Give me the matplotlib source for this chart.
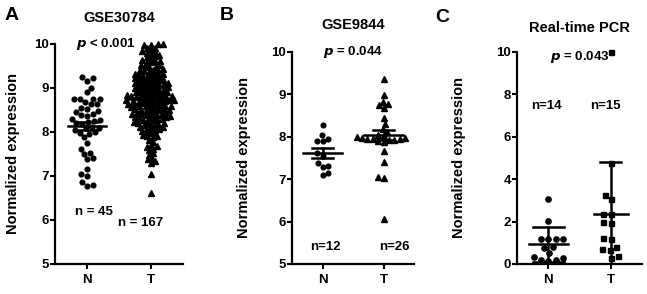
import matplotlib
matplotlib.use("Agg")
import matplotlib.pyplot as plt
import numpy as np

plt.rcParams['font.family'] = ['Liberation Sans', 'DejaVu Sans']
plt.rcParams['font.weight'] = 'bold'

# ---- data ----
groups = ['N', 'T']

# A: GSE30784
a_n = [9.26, 9.22, 9.17, 9.0, 8.9, 8.76, 8.76, 8.75, 8.74, 8.64, 8.63, 8.55, 8.53,
       8.4, 8.38, 8.36, 8.3, 8.28, 8.2, 8.18, 8.12, 8.1, 8.08, 7.98, 7.96, 7.88,
       8.68, 8.05, 7.76, 8.25, 7.62, 8.0, 7.52, 7.5, 8.22, 7.4, 7.38, 8.48, 7.15,
       7.05, 8.45, 7.0, 6.86, 6.8, 6.78]
a_t = [9.99, 10.0, 9.98, 9.97,
       9.92, 9.9, 9.88,
       9.83, 9.8, 9.78, 9.82,
       9.72, 9.7, 9.68, 9.74,
       9.63, 9.6, 9.58, 9.62, 9.61,
       9.52, 9.5, 9.48, 9.53, 9.47,
       9.43, 9.41, 9.4, 9.38, 9.42, 9.37,
       9.33, 9.31, 9.3, 9.28, 9.32, 9.27, 9.29,
       9.23, 9.21, 9.2, 9.18, 9.22, 9.17, 9.19, 9.24,
       9.13, 9.11, 9.1, 9.08, 9.12, 9.07, 9.09, 9.14, 9.06,
       9.03, 9.01, 9.0, 8.98, 9.02, 8.97, 8.99, 9.04, 8.96,
       8.93, 8.91, 8.9, 8.88, 8.92, 8.87, 8.89, 8.94, 8.86,
       8.83, 8.81, 8.8, 8.78, 8.82, 8.77, 8.79, 8.84, 8.76, 8.8, 8.81,
       8.73, 8.71, 8.7, 8.68, 8.72, 8.67, 8.69, 8.74, 8.66, 8.7, 8.72,
       8.63, 8.61, 8.6, 8.58, 8.62, 8.57, 8.59, 8.64, 8.56, 8.6,
       8.53, 8.51, 8.5, 8.48, 8.52, 8.47, 8.49, 8.54, 8.46,
       8.43, 8.41, 8.4, 8.38, 8.42, 8.37, 8.39, 8.44, 8.36,
       8.33, 8.31, 8.3, 8.28, 8.32, 8.27, 8.29, 8.34,
       8.23, 8.21, 8.2, 8.18, 8.22, 8.17, 8.19,
       8.13, 8.11, 8.1, 8.08, 8.12, 8.07,
       8.03, 8.01, 7.98, 8.0,
       7.93, 7.91, 7.88, 7.9,
       7.82, 7.78,
       7.68, 7.66, 7.7,
       7.62, 7.58,
       7.52, 7.48,
       7.42, 7.38,
       7.33, 7.3,
       7.05, 6.62]

# B: GSE9844
b_n = [8.28, 8.04, 7.94, 7.90, 7.90, 7.62, 7.55, 7.38, 7.31, 7.29, 7.15, 7.10]
b_t = [9.36, 8.99, 8.83, 8.75, 8.69, 8.77, 8.44, 8.30, 8.18, 8.12, 8.05, 8.03,
       8.0, 7.98, 7.96, 7.95, 7.94, 7.93, 7.92, 7.95, 7.9, 7.88, 7.67, 7.41, 7.06,
       7.04, 6.05]

# C: real-time PCR
c_n = [3.05, 2.04, 1.2, 1.18, 1.17, 1.16, 0.8, 0.75, 0.5, 0.35, 0.3, 0.2, 0.18, 0.15]
c_t = [10.0, 4.78, 3.25, 3.05, 2.38, 2.36, 1.98, 1.95, 1.25, 1.2, 0.8, 0.7, 0.65,
       0.38, 0.3]


def swarm(ax, x0, vals, size_px):
    # simple beeswarm: place points (sorted by y) as close to the centre as possible
    vals = np.asarray(vals, float)
    trans = ax.transData
    ypx = trans.transform(np.column_stack([np.full(len(vals), x0), vals]))[:, 1]
    xscale = trans.transform([[1, 0]])[0, 0] - trans.transform([[0, 0]])[0, 0]
    offs = np.zeros(len(vals))
    placed = []
    for i in np.argsort(ypx):
        y = ypx[i]
        near = [(px, py) for px, py in placed if abs(py - y) < size_px]
        cands = [0.0]
        for px, py in near:
            dx = np.sqrt(size_px ** 2 - (py - y) ** 2)
            cands += [px + dx, px - dx]
        cands.sort(key=lambda c: (round(abs(c), 3), c < 0 if len(placed) % 2 else c > 0))
        for c in cands:
            if all((c - px) ** 2 + (y - py) ** 2 >= size_px ** 2 - 1e-6 for px, py in near):
                break
        placed.append((c, y))
        offs[i] = c
    return x0 + offs / xscale


def style_axes(ax, ylim, yticks):
    ax.set_xlim(-0.5, 1.5)
    ax.set_ylim(*ylim)
    ax.set_yticks(yticks)
    ax.set_xticks([0, 1])
    ax.set_xticklabels(groups, fontsize=9.5, fontweight='bold')
    for s in ['top', 'right']:
        ax.spines[s].set_visible(False)
    for s in ['left', 'bottom']:
        ax.spines[s].set_linewidth(1.6)
    ax.tick_params(axis='both', direction='out', length=3.5, width=1.5, labelsize=9.5)
    ax.tick_params(axis='y', pad=1)
    ax.tick_params(axis='x', pad=4)
    for lab in ax.get_yticklabels():
        lab.set_fontweight('bold')
    ax.set_ylabel('Normalized expression', fontsize=10.5, fontweight='bold')


def mean_bar(ax, x, vals, kind, wmean, wcap):
    vals = np.asarray(vals, float)
    m = vals.mean()
    sd = vals.std(ddof=1)
    e = sd if kind == 'sd' else sd / np.sqrt(len(vals))
    ax.plot([x - wmean / 2, x + wmean / 2], [m, m], color='black', lw=1.8, zorder=4)
    ax.plot([x, x], [m - e, m + e], color='black', lw=1.8, zorder=4)
    for yy in (m - e, m + e):
        ax.plot([x - wcap / 2, x + wcap / 2], [yy, yy], color='black', lw=1.8, zorder=4)


fig = plt.figure(figsize=(6.47, 2.94), dpi=100)

# ---- panel A ----
axA = fig.add_axes([55 / 647, 1 - 264 / 294, 128 / 647, 220 / 294])
style_axes(axA, (5, 10), [5, 6, 7, 8, 9, 10])
axA.yaxis.set_label_coords(-0.27, 0.5)
xs = swarm(axA, 0, a_n, 6.0)
axA.plot(xs, a_n, 'o', color='black', ms=3.4, zorder=3, clip_on=False)
xs = swarm(axA, 1, a_t, 4.4)
axA.plot(xs, a_t, '^', color='black', ms=3.7, zorder=3, clip_on=False)
mean_bar(axA, 0, a_n, 'sem', 0.6, 0.3)
mean_bar(axA, 1, a_t, 'sem', 0.68, 0.3)
axA.text(0.3, 10, r'$\mathbfit{p}$ < 0.001', ha='center', va='center', fontsize=9.5, fontweight='bold', zorder=5)
axA.text(0.11, 6.18, 'n = 45', ha='center', va='center', fontsize=9.5, fontweight='bold')
axA.text(0.84, 5.93, 'n = 167', ha='center', va='center', fontsize=9.5, fontweight='bold')
axA.annotate('GSE30784', (0.5, 1), xycoords='axes fraction', xytext=(0, 19),
             textcoords='offset points', ha='center', va='center', fontsize=10.5, fontweight='bold')

# ---- panel B ----
axB = fig.add_axes([292 / 647, 1 - 264 / 294, 122 / 647, 212 / 294])
style_axes(axB, (5, 10), [5, 6, 7, 8, 9, 10])
axB.yaxis.set_label_coords(-0.335, 0.5)
xs = swarm(axB, 0, b_n, 6.0)
axB.plot(xs, b_n, 'o', color='black', ms=3.4, zorder=3)
xs = swarm(axB, 1, b_t, 5.5)
axB.plot(xs, b_t, '^', color='black', ms=3.8, zorder=3)
mean_bar(axB, 0, b_n, 'sem', 0.65, 0.35)
mean_bar(axB, 1, b_t, 'sem', 0.65, 0.35)
axB.text(0.5, 10, r'$\mathbfit{p}$ = 0.044', ha='center', va='center', fontsize=9.5, fontweight='bold')
axB.text(0.05, 5.4, 'n=12', ha='center', va='center', fontsize=9.5, fontweight='bold')
axB.text(1.18, 5.4, 'n=26', ha='center', va='center', fontsize=9.5, fontweight='bold')
axB.annotate('GSE9844', (0.5, 1), xycoords='axes fraction', xytext=(0, 19.5),
             textcoords='offset points', ha='center', va='center', fontsize=10.5, fontweight='bold')

# ---- panel C ----
axC = fig.add_axes([517 / 647, 1 - 264 / 294, 125 / 647, 212 / 294])
style_axes(axC, (0, 10), [0, 2, 4, 6, 8, 10])
axC.yaxis.set_label_coords(-0.41, 0.5)
xs = swarm(axC, 0, c_n, 7.5)
axC.plot(xs, c_n, 'o', color='black', ms=3.8, zorder=3, clip_on=False)
xs = swarm(axC, 1, c_t, 7.5)
axC.plot(xs, c_t, 's', color='black', ms=3.6, zorder=3, clip_on=False)
mean_bar(axC, 0, c_n, 'sd', 0.62, 0.5)
mean_bar(axC, 1, c_t, 'sd', 0.55, 0.33)
axC.text(0.5, 9.76, r'$\mathbfit{p}$ = 0.043', ha='center', va='center', fontsize=9.5, fontweight='bold')
axC.text(-0.03, 7.45, 'n=14', ha='center', va='center', fontsize=9.5, fontweight='bold')
axC.text(0.92, 7.45, 'n=15', ha='center', va='center', fontsize=9.5, fontweight='bold')
axC.annotate('Real-time PCR', (0.5, 1), xycoords='axes fraction', xytext=(0, 17.5),
             textcoords='offset points', ha='center', va='center', fontsize=10.5, fontweight='bold')

# panel letters
fig.text(5 / 647, 1 - 15 / 294, 'A', fontsize=14, fontweight='bold', va='center', ha='left')
fig.text(220 / 647, 1 - 15 / 294, 'B', fontsize=14, fontweight='bold', va='center', ha='left')
fig.text(435 / 647, 1 - 17 / 294, 'C', fontsize=14, fontweight='bold', va='center', ha='left')

fig.savefig('out.png', dpi=100)
